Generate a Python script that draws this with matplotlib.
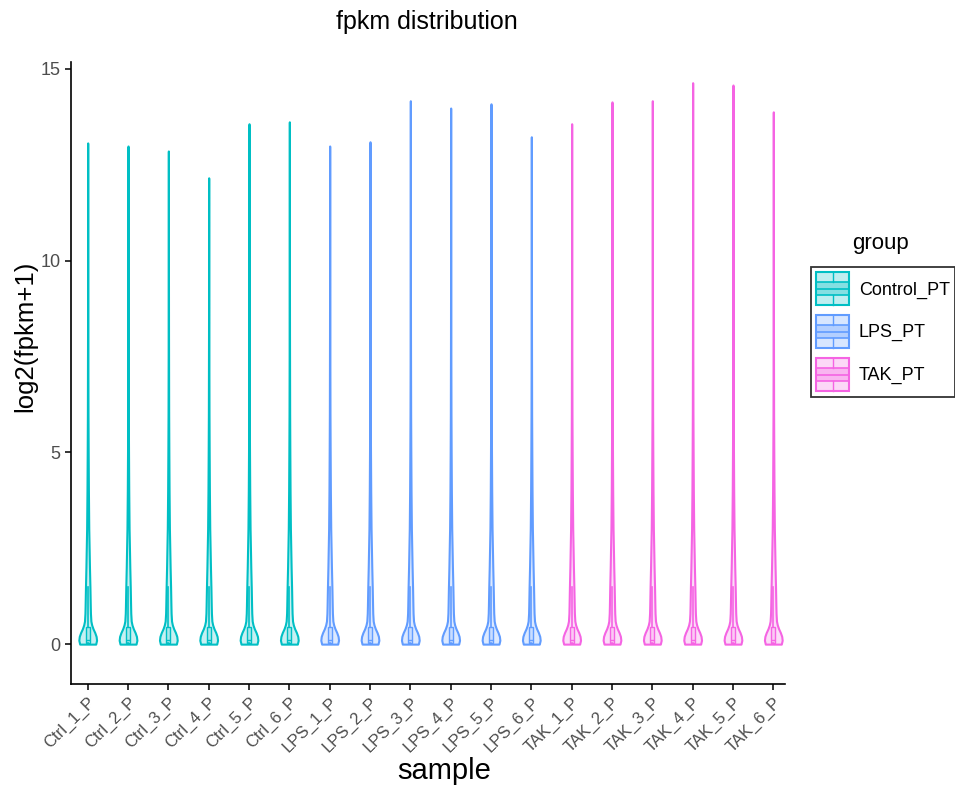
import numpy as np
import matplotlib
matplotlib.use('Agg')
import matplotlib.pyplot as plt
from matplotlib.legend_handler import HandlerBase
from matplotlib.patches import Rectangle
from matplotlib.lines import Line2D

plt.rcParams['font.family'] = ['Liberation Sans', 'DejaVu Sans']

# samples, group and top of each violin (max log2(fpkm+1))
samples = ['Ctrl_1_P', 'Ctrl_2_P', 'Ctrl_3_P', 'Ctrl_4_P', 'Ctrl_5_P', 'Ctrl_6_P',
           'LPS_1_P', 'LPS_2_P', 'LPS_3_P', 'LPS_4_P', 'LPS_5_P', 'LPS_6_P',
           'TAK_1_P', 'TAK_2_P', 'TAK_3_P', 'TAK_4_P', 'TAK_5_P', 'TAK_6_P']
groups = ['Control_PT'] * 6 + ['LPS_PT'] * 6 + ['TAK_PT'] * 6
max_vals = [13.07, 12.99, 12.86, 12.16, 13.57, 13.62,
            12.99, 13.10, 14.17, 13.98, 14.09, 13.23,
            13.57, 14.14, 14.17, 14.64, 14.58, 13.88]

# shared density profile (relative) estimated from the violin outlines
prof_y = [0.0, 0.1, 0.2, 0.3, 0.4, 0.5, 0.6, 0.8, 1.0, 1.5, 2.0, 2.5, 3.0,
          4.0, 5.0, 6.0, 8.0, 10.0, 12.0, 15.0]
prof_d = [0.9, 1.0, 0.95, 0.8, 0.6, 0.45, 0.36, 0.31, 0.29, 0.25, 0.2, 0.16, 0.12,
          0.08, 0.055, 0.035, 0.018, 0.009, 0.004, 0.002]

# box statistics (approximate, same for every sample)
box_q1, box_med, box_q3, box_lo, box_hi = 0.02, 0.1, 0.45, 0.0, 1.5

colors = {'Control_PT': '#00BFC4', 'LPS_PT': '#619CFF', 'TAK_PT': '#F564E3'}

fig = plt.figure(figsize=(9.55, 7.89), dpi=100)
ax = fig.add_axes([71 / 955, 1 - 684 / 789, (785 - 71) / 955, (684 - 62) / 789])

positions = np.arange(1, len(samples) + 1)

vpstats = []
for m in max_vals:
    ys = [y for y in prof_y if y < m] + [m]
    ds = [d for y, d in zip(prof_y, prof_d) if y < m] + [0.001]
    vpstats.append({'coords': np.array(ys), 'vals': np.array(ds),
                    'mean': 0.5, 'median': box_med, 'min': 0.0, 'max': m})

# every violin has the same peak, so the widths match
vp = ax.violin(vpstats, positions=positions, widths=0.44,
               showmeans=False, showextrema=False, showmedians=False)
for body, g in zip(vp['bodies'], groups):
    c = colors[g]
    body.set_facecolor(matplotlib.colors.to_rgba(c, 0.22))
    body.set_edgecolor(c)
    body.set_linewidth(1.5)
    body.set_alpha(None)

bstats = [{'med': box_med, 'q1': box_q1, 'q3': box_q3, 'whislo': box_lo,
           'whishi': box_hi, 'fliers': []} for _ in samples]
bp = ax.bxp(bstats, positions=positions, widths=0.1, patch_artist=True,
            showfliers=False, showcaps=False, manage_ticks=False)
for i, g in enumerate(groups):
    c = colors[g]
    bp['boxes'][i].set_facecolor(matplotlib.colors.to_rgba(c, 0.15))
    bp['boxes'][i].set_edgecolor(c)
    bp['boxes'][i].set_linewidth(1.0)
    bp['medians'][i].set_color(c)
    bp['medians'][i].set_linewidth(1.0)
    for w in bp['whiskers'][2 * i:2 * i + 2]:
        w.set_color(c)
        w.set_linewidth(1.2)

ax.set_xlim(0.586, 18.29)
ax.set_ylim(-1.04, 15.18)
ax.set_xticks(positions)
ax.set_xticklabels(samples, rotation=45, ha='right', va='top',
                   rotation_mode='anchor', fontsize=12, color='#4D4D4D')
ax.set_yticks([0, 5, 10, 15])
ax.set_yticklabels(['0', '5', '10', '15'], fontsize=13, color='#4D4D4D')
ax.tick_params(axis='both', length=4, width=1.1, color='black')
for s in ['top', 'right']:
    ax.spines[s].set_visible(False)
for s in ['left', 'bottom']:
    ax.spines[s].set_linewidth(1.2)

fig.text(444 / 955, 1 - 771 / 789, 'sample', fontsize=21, ha='center', va='center')
fig.text(25 / 955, 1 - 336 / 789, 'log2(fpkm+1)', fontsize=18.5, rotation=90,
         ha='center', va='center')
fig.text(427 / 955, 1 - 22 / 789, 'fpkm distribution',
         fontsize=18, ha='center', va='center')
fig.text(880 / 955, 1 - 244 / 789, 'group', fontsize=16, ha='center', va='center')


class VioBoxHandler(HandlerBase):
    def create_artists(self, legend, orig_handle, xdescent, ydescent,
                       width, height, fontsize, trans):
        c = orig_handle.get_edgecolor()
        x0, y0 = -xdescent, -ydescent
        outer = Rectangle((x0, y0), width, height, facecolor=(*c[:3], 0.25),
                          edgecolor=c, linewidth=1.5, transform=trans)
        inner = Rectangle((x0, y0 + height * 0.3), width, height * 0.4,
                          facecolor=(*c[:3], 0.3), edgecolor=c,
                          linewidth=1.2, transform=trans)
        med = Line2D([x0, x0 + width], [y0 + height * 0.5] * 2, color=c,
                     linewidth=1.2, transform=trans)
        vl1 = Line2D([x0 + width / 2] * 2, [y0, y0 + height * 0.3], color=c,
                     linewidth=1.0, transform=trans)
        vl2 = Line2D([x0 + width / 2] * 2, [y0 + height * 0.7, y0 + height], color=c,
                     linewidth=1.0, transform=trans)
        return [outer, inner, med, vl1, vl2]


handles = [Rectangle((0, 0), 1, 1, edgecolor=colors[g], facecolor='none')
           for g in ['Control_PT', 'LPS_PT', 'TAK_PT']]
leg = fig.legend(handles, ['Control_PT', 'LPS_PT', 'TAK_PT'],
                 loc='upper left', bbox_to_anchor=(811 / 955, 1 - 267 / 789),
                 handler_map={Rectangle: VioBoxHandler()}, frameon=True,
                 fancybox=False, edgecolor='black', fontsize=13,
                 handlelength=1.8, handleheight=2.43,
                 labelspacing=0.55, borderpad=0.3, handletextpad=0.55,
                 borderaxespad=0)
leg.get_frame().set_linewidth(1.3)

fig.savefig('out.png', dpi=100)
